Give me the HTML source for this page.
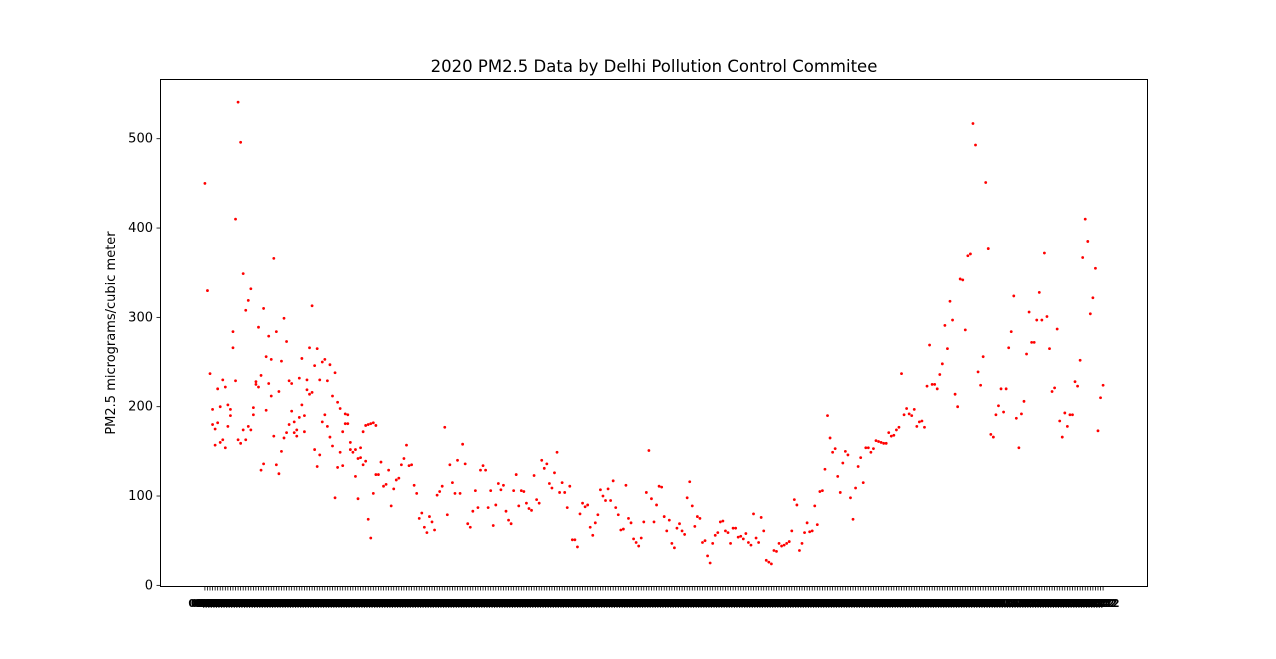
<!DOCTYPE html>
<html><head><meta charset="utf-8"><style>
body{margin:0;background:#fff;}
svg{display:block;font-family:"DejaVu Sans","Liberation Sans",sans-serif;}
</style></head><body>
<svg id="chart" width="1276" height="659" viewBox="0 0 1276 659">
<rect width="1276" height="659" fill="#fff"/>
<text x="654" y="72" text-anchor="middle" font-size="16.5" fill="#000">2020 PM2.5 Data by Delhi Pollution Control Commitee</text>
<text transform="translate(115,333) rotate(-90)" text-anchor="middle" font-size="13" fill="#000">PM2.5 micrograms/cubic meter</text>
<g id="xticks"></g>
<g id="yticks"></g>
<g id="points"></g>
<rect x="160.5" y="79.5" width="987" height="507" fill="none" stroke="#000" stroke-width="1"/>
</svg>
<script>
const reading1 = [450,330,237,197,175,220,200,230,222,202,197,284,410,541,496,349,308,319,332,199,228,289,235,310,256,279,253,366,284,217,251,299,273,229,226,183,174,232,254,190,230,266,313,246,265,230,250,253,229,247,212,238,205,198,172,192,191,160,149,152,142,154,172,179,180,181,182,179,
124,138,111,113,129,89,108,118,120,135,142,157,134,135,112,103,75,81,65,59,77,71,62,101,105,111,177,79,135,115,103,140,103,158,136,69,65,83,106,87,129,134,129,87,106,67,90,114,
107,112,83,73,69,106,124,89,106,105,92,86,84,123,96,92,140,131,136,114,109,126,149,104,115,104,87,111,51,51,43,80,92,88,90,65,56,70,79,107,100,95,108,95,117,87,79,62,63,112,75,70,52,48,44,53,71,104,151,
97,71,90,111,110,77,61,73,47,42,64,69,61,57,98,116,89,66,77,75,48,50,33,25,47,56,59,71,72,61,59,47,64,64,54,55,52,58,48,45,80,53,48,76,61,28,26,24,39,38,47,44,45,47,49,61,96,90,39,
47,59,70,60,61,89,68,105,106,130,190,165,149,153,122,104,137,150,146,98,74,109,133,143,115,154,154,149,153,162,161,160,159,159,171,167,168,174,177,237,191,198,192,190,197,178,183,184,177,223,269,225,225,220,236,248,291,265,318,
297,214,200,343,342,286,369,371,517,493,239,224,256,451,377,169,166,191,201,220,194,220,266,284,324,187,154,192,206,259,306,272,272,297,328,297,372,301,265,217,221,287,184,166,193,178,191,191,228,223,252,367,410,385,304,322,355,173,210,224];
const reading2 = [null,null,null,180,157,182,160,163,154,178,190,266,229,163,159,174,163,178,174,191,225,222,129,136,196,226,212,167,135,125,150,165,171,180,195,171,167,188,202,172,219,214,216,152,133,146,183,191,178,166,156,98,132,149,134,181,181,152,null,122,97,143,135,139,74,53,103,124];
const yTickValues = [0,100,200,300,400,500];
const startDate = [2020,0,1];
const categories = [];
for (let i = 0; i < reading1.length; i++) {
  const d = new Date(startDate[0], startDate[1], startDate[2] + i);
  categories.push(String(d.getDate()).padStart(2, "0") + "/" + String(d.getMonth() + 1).padStart(2, "0"));
}

const NS = "http://www.w3.org/2000/svg";
const L = 160, R = 1148, T = 79, B = 587;
const n = categories.length;
const xmin = -0.05 * (n - 1), xmax = (n - 1) * 1.05;
const allVals = reading1.concat(reading2.filter(v => v !== null));
const vmin = Math.min(...allVals), vmax = Math.max(...allVals);
const ypad = (vmax - vmin) * 0.05;
const ymin = vmin - ypad, ymax = vmax + ypad;
function xScale(i) { return L + (i - xmin) / (xmax - xmin) * (R - L); }
function yScale(v) { return B - (v - ymin) / (ymax - ymin) * (B - T); }

const xg = document.getElementById("xticks");
categories.forEach((c, i) => {
  const x = xScale(i);
  const t = document.createElementNS(NS, "line");
  t.setAttribute("x1", x); t.setAttribute("x2", x);
  t.setAttribute("y1", B); t.setAttribute("y2", B + 3.5);
  t.setAttribute("stroke", "#000"); t.setAttribute("stroke-width", "0.8");
  
  
  xg.appendChild(t);
  const lb = document.createElementNS(NS, "text");
  lb.setAttribute("x", x); lb.setAttribute("y", B + 20);
  lb.setAttribute("text-anchor", "middle"); lb.setAttribute("font-size", "10.5");
  lb.setAttribute("font-weight", "bold");
  lb.textContent = c;
  
  
  xg.appendChild(lb);
});

const yg = document.getElementById("yticks");
yTickValues.forEach(v => {
  const y = yScale(v);
  const t = document.createElementNS(NS, "line");
  t.setAttribute("x1", L - 3.5); t.setAttribute("x2", L);
  t.setAttribute("y1", y); t.setAttribute("y2", y);
  t.setAttribute("stroke", "#000"); t.setAttribute("stroke-width", "0.8");
  
  
  yg.appendChild(t);
  const lb = document.createElementNS(NS, "text");
  lb.setAttribute("x", L - 7); lb.setAttribute("y", y + 4);
  lb.setAttribute("text-anchor", "end"); lb.setAttribute("font-size", "13");
  lb.textContent = v;
  
  
  yg.appendChild(lb);
});

const pg = document.getElementById("points");
function addPoint(i, v) {
  const c = document.createElementNS(NS, "circle");
  c.setAttribute("cx", xScale(i)); c.setAttribute("cy", yScale(v));
  c.setAttribute("r", "1.4"); c.setAttribute("fill", "#ff0000");
  
  
  pg.appendChild(c);
}
reading1.forEach((v, i) => addPoint(i, v));
reading2.forEach((v, i) => { if (v !== null) addPoint(i, v); });
</script>
</body></html>
